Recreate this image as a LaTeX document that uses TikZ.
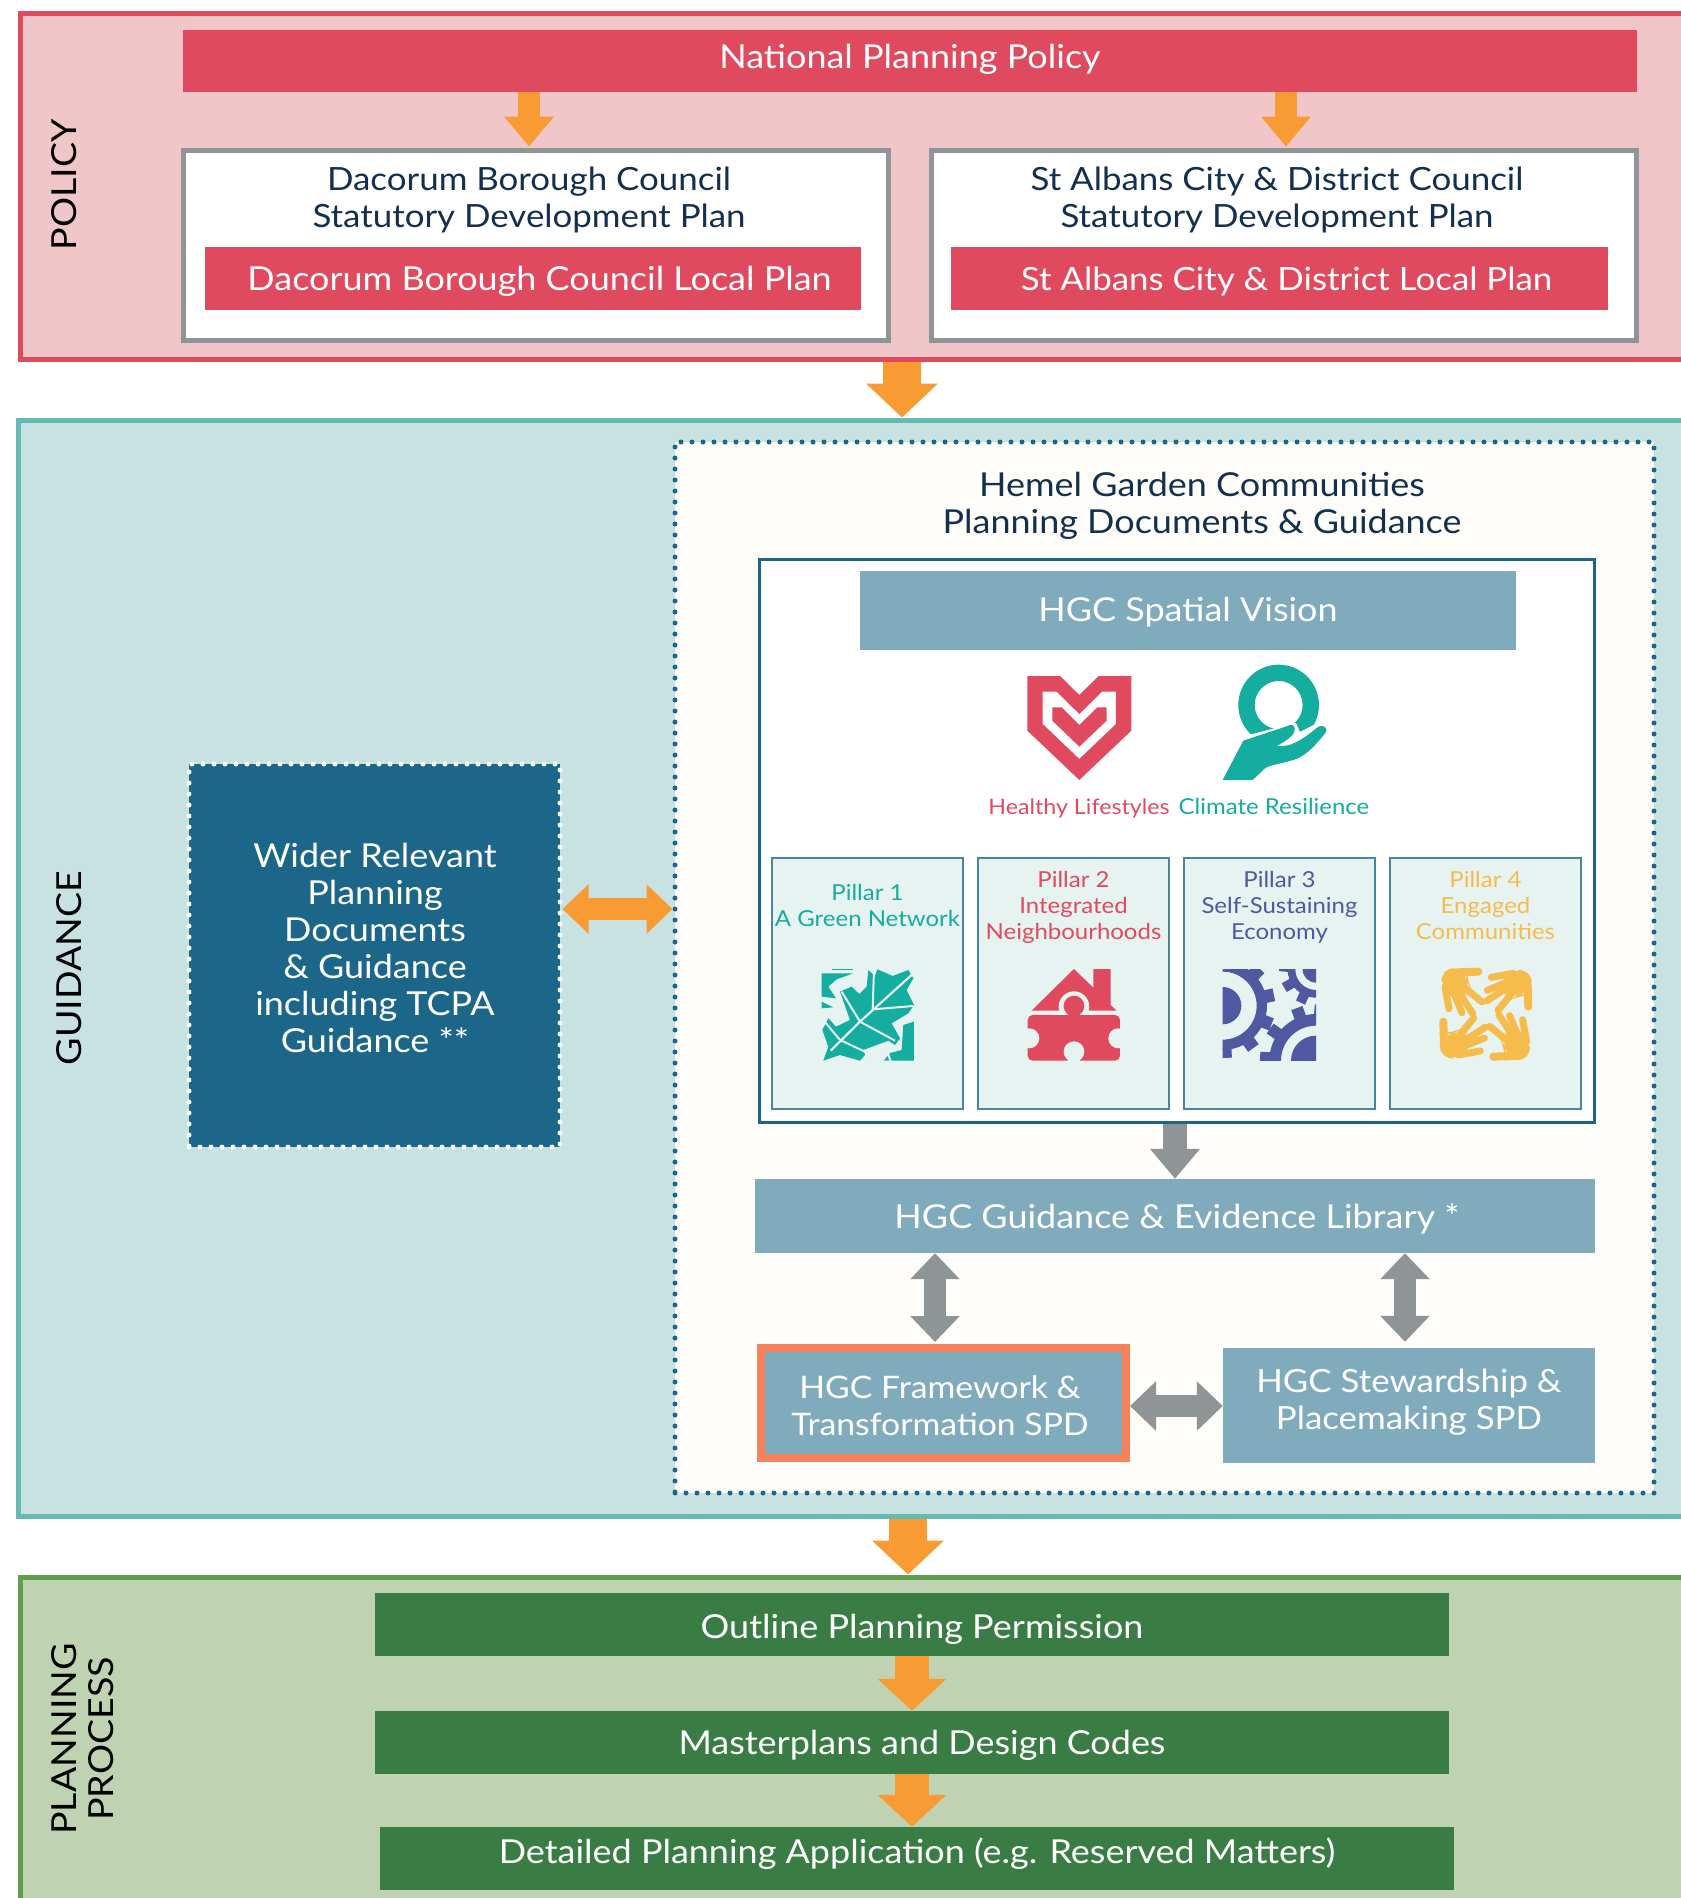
\documentclass[tikz,border=0pt]{standalone}
\usepackage{fontspec}
\setmainfont{Lato}[FakeStretch=1.09]
\usetikzlibrary{arrows.meta,calc}

\definecolor{policyred}{HTML}{E04A5F}
\definecolor{policybg}{HTML}{F0C6C8}
\definecolor{greyline}{HTML}{8F9596}
\definecolor{flow}{HTML}{F79B32}
\definecolor{barblue}{HTML}{7FABBC}
\definecolor{deepblue}{HTML}{1C6689}
\definecolor{guidebg}{HTML}{C8E2E2}
\definecolor{guideline}{HTML}{66BAB4}
\definecolor{notebg}{HTML}{FEFDF9}
\definecolor{pillarbg}{HTML}{E6F3F0}
\definecolor{barform}{HTML}{3A7D44}
\definecolor{planbg}{HTML}{BFD3B3}
\definecolor{planline}{HTML}{5E9E4C}
\definecolor{tealmark}{HTML}{14AD9F}
\definecolor{indigomark}{HTML}{4F58A0}
\definecolor{yellowmark}{HTML}{F5BC4C}
\definecolor{coral}{HTML}{F5825A}
\definecolor{navy}{HTML}{14304F}

\tikzset{
    plainbox/.style={rectangle, inner sep=0pt, align=center},
    section/.style={plainbox, line width=5pt},
    sidelabel/.style={plainbox, rotate=90, text=black, font=\fontsize{34.5}{37}\selectfont},
    bigtext/.style={font=\fontsize{33}{37}\selectfont},
    lesstext/.style={font=\fontsize{32}{37}\selectfont},
    sink/.style={text height=#1, text depth=8pt},
    redbar/.style={plainbox, bigtext, fill=policyred, text=white},
    bluebar/.style={plainbox, bigtext, fill=barblue, text=white},
    greenbar/.style={plainbox, bigtext, fill=barform, text=white, minimum width=1074pt, minimum height=63pt},
    plandoc/.style={plainbox, fill=white, draw=greyline, line width=5pt, minimum width=705pt, minimum height=190pt},
    titletext/.style={plainbox, bigtext, text=navy},
    pillar/.style={plainbox, fill=pillarbg, draw=deepblue!80, line width=1.5pt, minimum width=191pt, minimum height=251pt},
    pillartext/.style={plainbox, font=\fontsize{22}{26}\selectfont},
    smallflow/.style={draw=flow, line width=22pt, -{Triangle[length=30pt,width=48pt]}},
    bigflow/.style={draw=flow, line width=38pt, -{Triangle[length=34pt,width=70pt]}},
    midflow/.style={draw=flow, line width=34pt, -{Triangle[length=32pt,width=67pt]}},
    twoway/.style={line width=22pt, {Triangle[length=26pt,width=48pt]}-{Triangle[length=26pt,width=48pt]}},
}

\begin{document}
\begin{tikzpicture}[x=1pt, y=-1pt]
    \useasboundingbox (0,0) rectangle (1681,1898);
    \clip (0,0) rectangle (1681,1898);

    % policy
    \node[section, draw=policyred, fill=policybg, minimum width=1700pt, minimum height=346pt] (policy) at (870,186) {};
    \node[sidelabel] (policylabel) at (64,185) {POLICY};
    \node[redbar, sink=23pt, minimum width=1454pt, minimum height=62pt] (national) at (910,61) {National Planning Policy};
    \node[plandoc] (dacorum) at (535.5,245) {};
    \node[plandoc] (stalbans) at (1283.5,245) {};
    \node[titletext, lesstext] (dacorumtitle) at (529,199.5) {Dacorum Borough Council\\Statutory Development Plan};
    \node[titletext, lesstext] (stalbanstitle) at (1277,199.5) {St Albans City \& District Council\\Statutory Development Plan};
    \node[redbar, sink=32pt, minimum width=656pt, minimum height=63pt] (dacorumlocal) at (532.5,278.5) {\hspace*{14pt}Dacorum Borough Council Local Plan};
    \node[redbar, lesstext, sink=32pt, minimum width=657pt, minimum height=63pt] (stalbanslocal) at (1279.5,278.5) {\hspace*{14pt}St Albans City \& District Local Plan};

    % guidance
    \node[section, draw=guideline, fill=guidebg, minimum width=1700pt, minimum height=1096pt] (guidance) at (868,968) {};
    \node[sidelabel] (guidancelabel) at (69,968) {GUIDANCE};
    \node[plainbox, fill=notebg, draw=deepblue, line width=5pt, dash pattern=on 0pt off 11pt, line cap=round, minimum width=979pt, minimum height=1051pt] (hgcdocs) at (1164.5,967.5) {};
    \node[titletext] (hgctitle) at (1202,505.5) {Hemel Garden Communities\\Planning Documents \& Guidance};
    \node[plainbox, fill=white, draw=deepblue, line width=3pt, minimum width=835pt, minimum height=563pt] (hgcvision) at (1176.5,840.5) {};
    \node[bluebar, sink=30pt, minimum width=656pt, minimum height=79pt] (spatial) at (1188,610.5) {HGC Spatial Vision};
    \node[plainbox, bigtext, fill=deepblue, text=white, draw=white, line width=5pt, dash pattern=on 0pt off 11pt, line cap=round, minimum width=371pt, minimum height=383pt] (wider) at (374.5,955.5) {};
    \node[plainbox, bigtext, text=white] (widertext) at (375,947.5) {Wider Relevant\\Planning\\Documents\\\& Guidance\\including TCPA\\Guidance **};

    % healthy lifestyles
    \begin{scope}[shift={(960,640)}, x=0.3333pt, y=-0.3333pt]
        \fill[policyred, even odd rule] (202,108) -- (300,108) -- (358,165) -- (416,108) -- (514,108) -- (514,272) -- (358,420) -- (202,272) -- cycle
            (248,155) -- (290,155) -- (358,222) -- (426,155) -- (468,155) -- (468,252) -- (358,357) -- (248,252) -- cycle;
        \fill[policyred] (277,202) -- (305,202) -- (358,255) -- (412,202) -- (440,202) -- (440,242) -- (358,320) -- (277,242) -- cycle;
    \end{scope}
    % climate resilience
    \begin{scope}[shift={(960,640)}, x=0.3333pt, y=-0.3333pt]
        \begin{scope}
            \clip (800,50) -- (1100,50) -- (1100,235) -- (1020,275) -- (1008,248) -- (865,285) -- (800,285) -- cycle;
            \fill[tealmark, even odd rule] (956,195) circle[radius=121] (956,195) circle[radius=72];
        \end{scope}
        \fill[tealmark] (788,420) -- (850,302) .. controls (900,285) and (950,270) .. (990,255)
            .. controls (1005,250) and (1008,270) .. (1000,282) .. controls (985,300) and (965,310) .. (950,318)
            .. controls (990,322) and (1020,305) .. (1075,260) .. controls (1090,252) and (1108,265) .. (1095,280)
            .. controls (1060,325) and (1030,352) .. (1000,360) .. controls (960,372) and (930,375) .. (915,385)
            -- (878,420) -- cycle;
    \end{scope}
    \node[pillartext, font=\fontsize{21.3}{26}\selectfont, text=policyred] (healthy) at (1079,808) {Healthy Lifestyles};
    \node[pillartext, text=tealmark] (climate) at (1274,806) {Climate Resilience};

    % pillars
    \foreach \name/\x/\top/\tone/\lines in {
        pillarone/867.5/884/tealmark/{Pillar 1\\A Green Network},
        pillartwo/1073.5/871/policyred/{Pillar 2\\Integrated\\Neighbourhoods},
        pillarthree/1279.5/871/indigomark/{Pillar 3\\Self-Sustaining\\Economy},
        pillarfour/1485.5/871/yellowmark/{Pillar 4\\Engaged\\Communities}}
    {
        \node[pillar] (\name) at (\x,983.5) {};
        \node[pillartext, text=\tone, anchor=north] (\name text) at (\x,\top) {\lines};
    }

    % leaf
    \begin{scope}[shift={(760,850)}, x=0.3333pt, y=-0.3333pt]
        \fill[tealmark] (185,370) -- (280,370) -- (230,388) -- (205,410) -- (228,445) -- (185,440) -- cycle;
        \fill[tealmark] (215,357) -- (280,357) -- (280,361) -- (215,361) -- cycle;
        \fill[tealmark] (185,455) -- (220,472) -- (185,475) -- cycle;
        \fill[tealmark] (240,425) -- (275,410) -- (298,432) -- (320,410) -- (325,360) -- (345,378) -- (352,358) -- (398,378) -- (445,360)
            -- (460,385) -- (440,420) -- (462,465) -- (445,490) -- (395,520) -- (420,565) -- (405,585) -- (385,572) -- (310,600)
            -- (315,615) -- (300,632) -- (240,615) -- (190,632) -- (205,590) -- (187,540) -- (205,505) -- (228,530) -- (270,510) -- cycle;
        \fill[tealmark] (430,525) -- (462,515) -- (462,632) -- (395,632) -- (388,610) -- (425,600) -- cycle;
        \fill[tealmark] (372,632) -- (382,618) -- (388,632) -- cycle;
        \draw[pillarbg, line width=2.2pt] (212,602) -- (300,515) -- (458,372);
        \draw[pillarbg, line width=2pt] (300,515) -- (245,425);
        \draw[pillarbg, line width=2pt] (300,515) -- (405,572);
        \draw[pillarbg, line width=2pt] (340,478) -- (460,468);
        \draw[pillarbg, line width=2pt] (338,478) -- (342,360);
        \draw[pillarbg, line width=2pt] (240,570) -- (190,510);
        \draw[pillarbg, line width=2pt] (240,570) -- (315,605);
    \end{scope}

    % puzzle house
    \begin{scope}[shift={(760,850)}, x=0.3333pt, y=-0.3333pt]
        \fill[policyred] (815,482) -- (942,357) -- (1000,413) -- (1000,357) -- (1052,357) -- (1052,465) -- (1070,482) -- cycle;
        \fill[pillarbg] (942,470) circle[radius=46];
        \fill[policyred, rounded corners=5pt] (803,495) rectangle (1080,632);
        \fill[pillarbg] (880,482) rectangle (1005,495);
        \fill[policyred] (942,468) circle[radius=31];
        \fill[policyred] (925,480) rectangle (959,500);
        \fill[pillarbg] (808,565) circle[radius=30];
        \fill[pillarbg] (1075,565) circle[radius=30];
        \fill[pillarbg] (942,605) circle[radius=31];
        \fill[pillarbg] (925,625) rectangle (960,634);
    \end{scope}

    % gears
    \begin{scope}[shift={(1180,850)}, x=0.3333pt, y=-0.3333pt]
        \clip (128,358) rectangle (408,633);
        \fill[indigomark] (128,467) circle[radius=56];
        \fill[indigomark, even odd rule] (128,467) circle[radius=133] (128,467) circle[radius=102];
        \foreach \a in {-45,-12,21,54,87}
            \draw[indigomark, line width=13pt] ($(128,467)+(\a:125)$) -- ($(128,467)+(\a:157)$);
        \fill[indigomark] (408,358) circle[radius=40];
        \fill[indigomark, even odd rule] (408,358) circle[radius=85] (408,358) circle[radius=62];
        \foreach \a in {115,150,185}
            \draw[indigomark, line width=10pt] ($(408,358)+(\a:80)$) -- ($(408,358)+(\a:110)$);
        \fill[indigomark] (408,632) circle[radius=75];
        \fill[indigomark, even odd rule] (408,632) circle[radius=140] (408,632) circle[radius=105];
        \foreach \a in {183,215,250,275}
            \draw[indigomark, line width=12pt] ($(408,632)+(\a:130)$) -- ($(408,632)+(\a:168)$);
    \end{scope}

    % hands
    \begin{scope}[shift={(1180,850)}, x=0.3333pt, y=-0.3333pt]
        \foreach \a in {0,90,180,270} {
            \begin{scope}[rotate around={\a:(917.5,492.5)}]
                \fill[yellowmark, rounded corners=14pt] (780,355) -- (860,355) -- (858,392) -- (878,425) -- (835,450) -- (790,425) -- cycle;
                \draw[yellowmark, line width=8pt, line cap=round] (830,367) -- (895,365);
                \draw[yellowmark, line width=7pt, line cap=round] (850,410) -- (906,456);
                \draw[yellowmark, line width=7pt, line cap=round] (835,425) -- (878,490);
                \draw[yellowmark, line width=7pt, line cap=round] (820,425) -- (846,488);
                \draw[yellowmark, line width=7pt, line cap=round] (795,410) -- (807,476);
            \end{scope}
        }
    \end{scope}

    \node[bluebar, sink=32pt, minimum width=840pt, minimum height=74pt] (library) at (1175,1216) {\hspace*{4pt}HGC Guidance \& Evidence Library *};
    \node[bluebar, draw=coral, line width=8pt, font=\fontsize{31}{37}\selectfont, minimum width=365pt, minimum height=110pt] (framework) at (943.5,1403) {\rule{0pt}{29pt}HGC Framework \&\hspace*{7pt}\\Transformation SPD\hspace*{7pt}};
    \node[bluebar, lesstext, minimum width=372pt, minimum height=115pt] (stewardship) at (1409,1405.5) {HGC Stewardship \&\\Placemaking SPD\rule[-12pt]{0pt}{1pt}};

    % planning process
    \node[section, draw=planline, fill=planbg, minimum width=1700pt, minimum height=360pt] (planning) at (870,1757) {};
    \node[sidelabel] (planninglabel) at (83,1739) {PLANNING\\PROCESS};
    \node[greenbar, sink=35pt] (outline) at (912,1624.5) {\hspace*{20pt}Outline Planning Permission};
    \node[greenbar, sink=32pt] (masterplans) at (912,1742.5) {\hspace*{20pt}Masterplans and Design Codes};
    \node[greenbar, sink=18pt] (detailed) at (917,1858.5) {Detailed Planning Application (e.g. Reserved Matters)};

    % arrows
    \coordinate (leftdrop) at (529,120);
    \coordinate (rightdrop) at (1286,120);
    \coordinate (policydrop) at (902,390);
    \coordinate (guidedrop) at (908,1545);
    \coordinate (leftlink) at (935,1300);
    \coordinate (rightlink) at (1405,1300);
    \coordinate (visiondrop) at (1175,1150);
    \coordinate (midrow) at (600,909);
    \coordinate (spdrow) at (1175,1406);
    \draw[smallflow, shorten >=1pt] (national.south -| leftdrop) -- (dacorum.north -| leftdrop);
    \draw[smallflow, shorten >=1pt] (national.south -| rightdrop) -- (stalbans.north -| rightdrop);
    \draw[bigflow] (policy.south -| policydrop) -- (guidance.north -| policydrop);
    \draw[bigflow] (guidance.south -| guidedrop) -- (planning.north -| guidedrop);
    \draw[twoway, draw=flow] (wider.east |- midrow) -- (hgcdocs.west |- midrow);
    \draw[smallflow, draw=greyline, line width=24pt] (hgcvision.south -| visiondrop) -- (library.north -| visiondrop);
    \draw[twoway, draw=greyline, shorten >=2pt] (library.south -| leftlink) -- (framework.north -| leftlink);
    \draw[twoway, draw=greyline, shorten >=6pt] (library.south -| rightlink) -- (stewardship.north -| rightlink);
    \draw[twoway, draw=greyline] (framework.east |- spdrow) -- (stewardship.west |- spdrow);
    \draw[midflow] (outline.south) -- (masterplans.north);
    \draw[midflow] (masterplans.south) -- (masterplans.south |- detailed.north);
\end{tikzpicture}
\end{document}
